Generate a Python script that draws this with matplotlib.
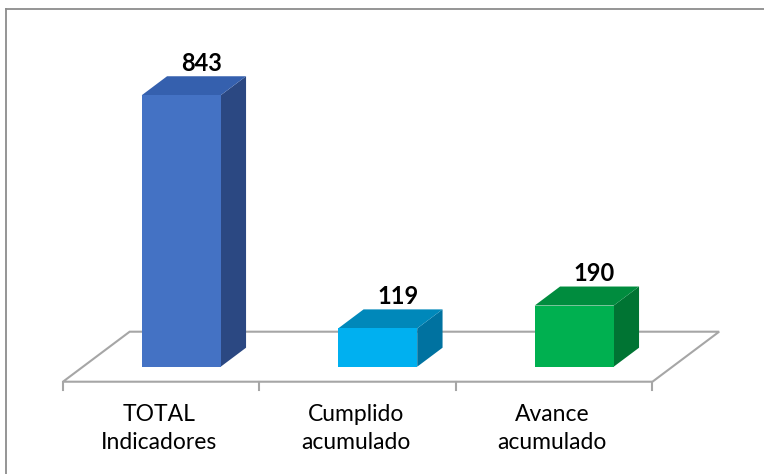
import matplotlib
matplotlib.use("Agg")
import matplotlib.pyplot as plt
from matplotlib.patches import Polygon
from matplotlib.lines import Line2D

# Datos del gráfico
categorias = ["TOTAL\nIndicadores", "Cumplido\nacumulado", "Avance\nacumulado"]
valores = [843, 119, 190]
colores_frente = ["#4472C4", "#00B0F0", "#00B050"]
colores_arriba = ["#3560AE", "#0088BA", "#008C3E"]
colores_lado = ["#2B4882", "#0072A0", "#007433"]

plt.rcParams["font.family"] = ["Lato", "DejaVu Sans"]

fig = plt.figure(figsize=(7.64, 4.74), dpi=100)
ax = fig.add_axes([0, 0, 1, 1])
ax.set_xlim(-0.8204, 3.0677)
ax.set_ylim(-286.6, 1185.4)
ax.axis("off")

# profundidad del piso (en unidades de datos) y posición de las barras en ella
DX, DY = 0.3394, 155.3
D0, D1 = 0.30, 0.68
ANCHO = 0.402
gris = "#A6A6A6"

# piso
n = len(valores)
piso = [(-0.5, 0), (n - 0.5, 0), (n - 0.5 + DX, DY), (-0.5 + DX, DY)]
ax.add_patch(Polygon(piso, closed=True, fill=False, edgecolor=gris, lw=1.5, zorder=1))
for b in range(n + 1):
    ax.plot([b - 0.5, b - 0.5], [0, -25], color=gris, lw=1.5, zorder=1)

for i, (v, cf, ca, cl) in enumerate(zip(valores, colores_frente, colores_arriba, colores_lado)):
    xc = i + D0 * DX
    xl, xr = xc - ANCHO / 2, xc + ANCHO / 2
    yb = D0 * DY
    yt = yb + v
    bx, by = (D1 - D0) * DX, (D1 - D0) * DY
    ax.add_patch(Polygon([(xr, yb), (xr + bx, yb + by), (xr + bx, yt + by), (xr, yt)],
                         closed=True, facecolor=cl, edgecolor="none", zorder=3))
    ax.add_patch(Polygon([(xl, yt), (xr, yt), (xr + bx, yt + by), (xl + bx, yt + by)],
                         closed=True, facecolor=ca, edgecolor="none", zorder=3))
    ax.add_patch(Polygon([(xl, yb), (xr, yb), (xr, yt), (xl, yt)],
                         closed=True, facecolor=cf, edgecolor="none", zorder=4))
    ax.text(i + 0.6 * DX, yt + by + 4, str(v), ha="center", va="bottom",
            fontsize=17, fontweight="bold", color="black", zorder=5)
    ax.text(i - 0.01, -70, categorias[i], ha="center", va="top", fontsize=16.5,
            linespacing=1.4, color="black")

# borde del gráfico
fig.add_artist(Line2D([0.0085, 1.0], [1 - 9 / 474, 1 - 9 / 474], color="#8C8C8C", lw=1.3,
                      transform=fig.transFigure))
fig.add_artist(Line2D([0.0085, 0.0085], [0.0, 1 - 9 / 474], color="#8C8C8C", lw=1.3,
                      transform=fig.transFigure))

fig.savefig("out.png", dpi=100)
